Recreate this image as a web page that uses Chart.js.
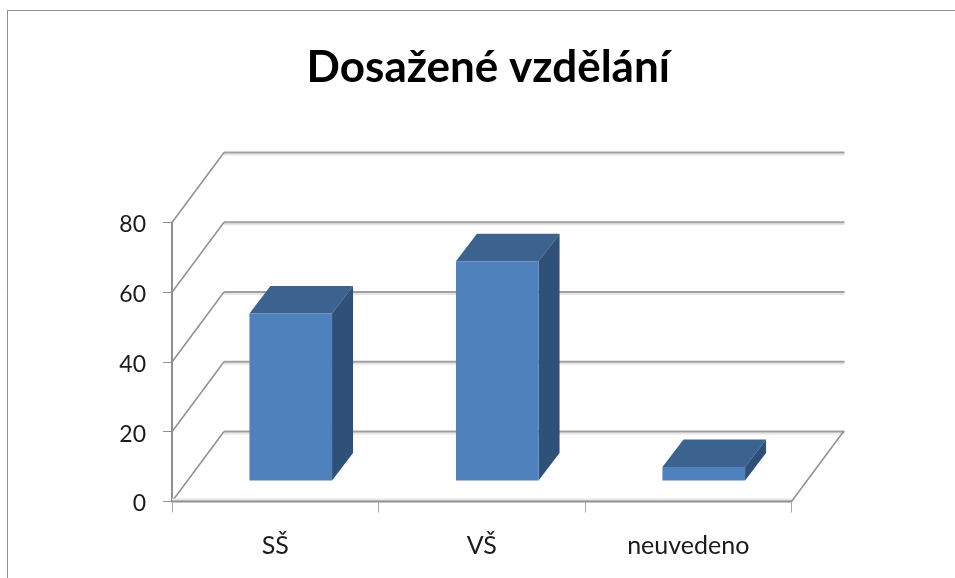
<!DOCTYPE html>
<html lang="cs">
<head>
<meta charset="utf-8">
<title>Dosažené vzdělání</title>
<script src="https://cdn.jsdelivr.net/npm/chart.js@4/dist/chart.umd.min.js"></script>
<style>html,body{margin:0;padding:0;background:#fff;overflow:hidden}canvas{display:block;filter:blur(.45px)}</style>
</head>
<body>
<canvas id="c" width="955" height="578"></canvas>
<script>
const titleText = 'Dosažené vzdělání';
const categories = ['SŠ', 'VŠ', 'neuvedeno'];
const values = [48, 63, 4];
const axisMin = 0, axisMax = 80, axisStep = 20;

const WALL_DX = 52, WALL_DY = -70;       // perspective offset of the back wall
const BAR_SHIFT_X = 15.5, BAR_SHIFT_Y = -20.5; // bars stand mid-way on the floor
const BAR_DX = 21, BAR_DY = -27.5;       // depth of each bar
const LINE = '#8f8f8f', SHADOW = '#e6e6e6';
const FRONT = '#4f81bd', TOP = '#3c628f', SIDE = '#2f5078';

function seg(ctx, x1, y1, x2, y2, color, w) {
  ctx.strokeStyle = color; ctx.lineWidth = w;
  ctx.beginPath(); ctx.moveTo(x1, y1); ctx.lineTo(x2, y2); ctx.stroke();
}
function poly(ctx, pts, color) {
  ctx.fillStyle = color; ctx.beginPath();
  pts.forEach((p, i) => i ? ctx.lineTo(p[0], p[1]) : ctx.moveTo(p[0], p[1]));
  ctx.closePath(); ctx.fill();
}

const frame = {
  id: 'frame',
  beforeDraw(chart) {
    const ctx = chart.ctx;
    seg(ctx, 7.5, 10.5, 7.5, 578, LINE, 1);
    seg(ctx, 7, 10.5, 955, 10.5, LINE, 1);
  },
  afterLayout(chart) {
    chart.titleBlock.left += 6.5;
    chart.titleBlock.right += 6.5;
  }
};

const walls = {
  id: 'walls',
  beforeDatasetsDraw(chart) {
    const ctx = chart.ctx, a = chart.chartArea, y = chart.scales.y;
    const bx = a.left + WALL_DX, rx = a.right + WALL_DX + 1;
    ctx.save();
    y.ticks.forEach(t => {
      const py = y.getPixelForValue(t.value);
      seg(ctx, bx, py + WALL_DY + 2, rx, py + WALL_DY + 2, SHADOW, 2);
      seg(ctx, bx, py + WALL_DY, rx, py + WALL_DY, '#a0a0a0', 1.8);
      seg(ctx, a.left, py, bx, py + WALL_DY, LINE, 1.5);
    });
    const p0 = y.getPixelForValue(0);
    seg(ctx, a.left, p0 - 2, a.right, p0 - 2, SHADOW, 2);
    seg(ctx, a.right, p0, a.right + WALL_DX, p0 + WALL_DY, LINE, 1.5);
    ctx.restore();
  },
  beforeDatasetDraw(chart, args) {
    const ctx = chart.ctx;
    ctx.save();
    ctx.translate(BAR_SHIFT_X, BAR_SHIFT_Y);
    args.meta.data.forEach(b => {
      const l = b.x - b.width / 2, r = b.x + b.width / 2;
      poly(ctx, [[l, b.y], [l + BAR_DX, b.y + BAR_DY], [r + BAR_DX, b.y + BAR_DY], [r, b.y]], TOP);
      poly(ctx, [[r, b.y], [r + BAR_DX, b.y + BAR_DY], [r + BAR_DX, b.base + BAR_DY], [r, b.base]], SIDE);
    });
  },
  afterDatasetDraw(chart) { chart.ctx.restore(); }
};

function nudgeLabels(scale, dy) {
  if (scale._nudged) return;
  scale._nudged = true;
  const draw = scale.drawLabels;
  scale.drawLabels = function (area) {
    this.ctx.save();
    this.ctx.translate(0, dy);
    draw.call(this, area);
    this.ctx.restore();
  };
}

new Chart(document.getElementById('c'), {
  type: 'bar',
  plugins: [frame, walls],
  data: {
    labels: categories,
    datasets: [{ data: values, backgroundColor: FRONT, borderWidth: 0, barPercentage: 0.4, categoryPercentage: 1 }]
  },
  options: {
    responsive: false, animation: false,
    layout: { padding: { left: 0, right: 163.5, top: 0, bottom: 0 } },
    plugins: {
      legend: { display: false }, tooltip: { enabled: false },
      title: {
        display: true, text: titleText, fullSize: false, color: '#000',
        font: { family: 'Lato', size: 44, weight: 'bold', lineHeight: 1.2 },
        padding: { top: 41, bottom: 128.7 }
      }
    },
    scales: {
      x: {
        afterFit(s) { s.height = 76.5; },
        border: { color: LINE, width: 2.5 },
        grid: { drawOnChartArea: false, tickLength: 11, tickColor: '#a8a8a8', tickWidth: 1 },
        ticks: { color: '#1a1a1a', padding: 18, maxRotation: 0, font: { family: 'Lato', size: 25 } }
      },
      y: {
        min: axisMin, max: axisMax,
        afterFit(s) { s.width = 172; },
        afterUpdate(s) { nudgeLabels(s, 2.5); },
        border: { color: LINE, width: 2 },
        grid: { drawOnChartArea: false, tickLength: 9, tickColor: LINE, tickWidth: 1 },
        ticks: { stepSize: axisStep, color: '#1a1a1a', padding: 17, font: { family: 'Lato', size: 23 } }
      }
    }
  }
});
</script>
</body>
</html>
